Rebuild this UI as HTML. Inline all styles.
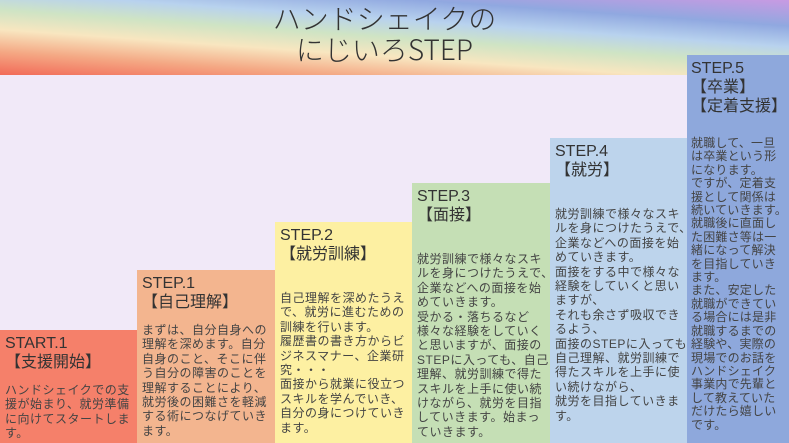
<!DOCTYPE html>
<html><head><meta charset="utf-8"><style>
html,body{margin:0;width:789px;height:443px;overflow:hidden}
body{background:#f1e9f8;position:relative;font-family:"Liberation Sans","Noto Sans CJK JP",sans-serif;color:#333}
.ban{position:absolute;left:0;top:0;width:789px;height:75px;background:linear-gradient(4deg,#f26a58 0%,#f4a884 18%,#f8e6c0 35%,#cfe4c4 50%,#b8d2ee 64%,#90a8e0 80%,#c89ae2 100%)}
.title{position:absolute;left:0;width:789px;top:3px;text-align:center;font-family:"Noto Sans CJK JP",sans-serif;font-weight:300;font-size:28px;line-height:31px;color:#333;padding-right:20px;box-sizing:border-box}
.c{position:absolute;bottom:0;box-sizing:border-box;padding:4px 5px;white-space:nowrap;overflow:hidden}
.h{font-size:16px;line-height:19px;color:#333}
.t{font-size:12px;line-height:14.4px;color:#444;letter-spacing:0.5px}
</style></head><body>
<div class="ban"></div>
<div class="title">ハンドシェイクの<br>にじいろSTEP</div>
<div class="c" style="left:0;width:137px;top:330px;background:#f5806a"><div class="h">START.1<br>【支援開始】</div><div class="t" style="margin-top:11px">ハンドシェイクでの支<br>援が始まり、就労準備<br>に向けてスタートしま<br>す。</div></div>
<div class="c" style="left:137px;width:138px;top:270px;background:#f3b58f"><div class="h">STEP.1<br>【自己理解】</div><div class="t" style="margin-top:11px">まずは、自分自身への<br>理解を深めます。自分<br>自身のこと、そこに伴<br>う自分の障害のことを<br>理解することにより、<br>就労後の困難さを軽減<br>する術につなげていき<br>ます。</div></div>
<div class="c" style="left:275px;width:137px;top:222px;background:#fdf0a2"><div class="h">STEP.2<br>【就労訓練】</div><div class="t" style="margin-top:27px">自己理解を深めたうえ<br>で、就労に進むための<br>訓練を行います。<br>履歴書の書き方からビ<br>ジネスマナー、企業研<br>究・・・<br>面接から就業に役立つ<br>スキルを学んでいき、<br>自分の身につけていき<br>ます。</div></div>
<div class="c" style="left:412px;width:138px;top:183px;background:#c5dfb5"><div class="h">STEP.3<br>【面接】</div><div class="t" style="margin-top:27px">就労訓練で様々なスキ<br>ルを身につけたうえで、<br>企業などへの面接を始<br>めていきます。<br>受かる・落ちるなど<br>様々な経験をしていく<br>と思いますが、面接の<br>STEPに入っても、自己<br>理解、就労訓練で得た<br>スキルを上手に使い続<br>けながら、就労を目指<br>していきます。始まっ<br>ていきます。</div></div>
<div class="c" style="left:550px;width:137px;top:138px;background:#bdd4ec"><div class="h">STEP.4<br>【就労】</div><div class="t" style="margin-top:27px">就労訓練で様々なスキ<br>ルを身につけたうえで、<br>企業などへの面接を始<br>めていきます。<br>面接をする中で様々な<br>経験をしていくと思い<br>ますが、<br>それも余さず吸収でき<br>るよう、<br>面接のSTEPに入っても、<br>自己理解、就労訓練で<br>得たスキルを上手に使<br>い続けながら、<br>就労を目指していきま<br>す。</div></div>
<div class="c" style="left:687px;width:102px;top:55px;background:#8ea8dc;padding-left:4px"><div class="h">STEP.5<br>【卒業】<br>【定着支援】</div><div class="t" style="margin-top:21px;line-height:13.4px;letter-spacing:0.2px">就職して、一旦<br>は卒業という形<br>になります。<br>ですが、定着支<br>援として関係は<br>続いていきます。<br>就職後に直面し<br>た困難さ等は一<br>緒になって解決<br>を目指していき<br>ます。<br>また、安定した<br>就職ができてい<br>る場合には是非<br>就職するまでの<br>経験や、実際の<br>現場でのお話を<br>ハンドシェイク<br>事業内で先輩と<br>して教えていた<br>だけたら嬉しい<br>です。</div></div>
</body></html>
